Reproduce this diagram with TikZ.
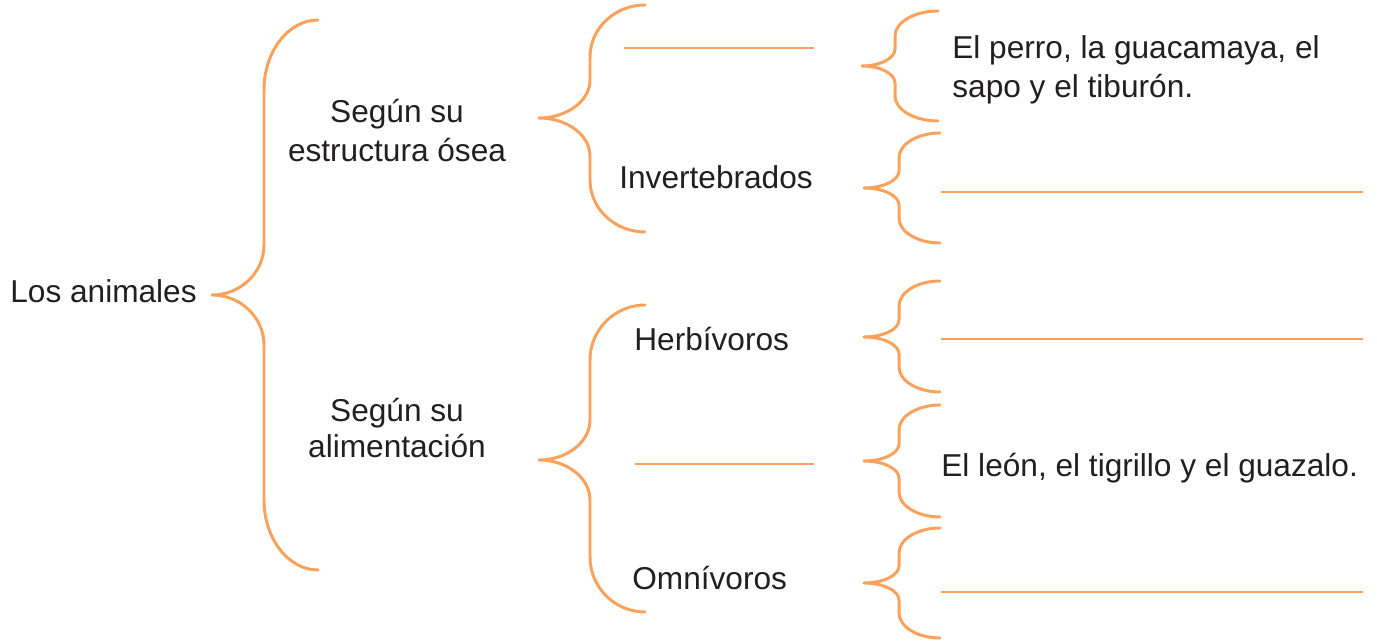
\documentclass[tikz,border=0pt]{standalone}
\usepackage{fontspec}
\setmainfont{Liberation Sans}
\definecolor{brc}{RGB}{250,162,92}
\definecolor{txc}{RGB}{35,31,32}
\tikzset{
  bracestyle/.style={draw=brc, line width=1.7pt, line cap=round, line join=round},
  blank/.style={draw=brc, line width=1.5pt},
  lbl/.style={inner sep=0pt, text=txc, font=\fontsize{18}{22.7}\selectfont, align=center, anchor=base},
  lblw/.style={lbl, anchor=base west, align=left},
}
% #1 name, #2 tip x, #3 tip y, #4 spine x, #5 end x, #6 top y, #7 bottom y, #8 end radius, #9 tip radius
\newcommand\mybrace[9]{%
  \coordinate (#1-tip) at (#2,#3);
  \coordinate (#1-top) at (#5,#6);
  \coordinate (#1-bot) at (#5,#7);
  \draw[bracestyle] (#1-top)
    .. controls ({#4+0.45*(#5-#4)},#6) and (#4,{#6+0.45*#8}) .. (#4,{#6+#8})
    -- (#4,{#3-#9})
    .. controls (#4,{#3-0.45*#9}) and ({#4-0.45*(#4-#2)},#3) .. (#1-tip)
    .. controls ({#4-0.45*(#4-#2)},#3) and (#4,{#3+0.45*#9}) .. (#4,{#3+#9})
    -- (#4,{#7-#8})
    .. controls (#4,{#7-0.45*#8}) and ({#4+0.45*(#5-#4)},#7) .. (#1-bot);
}
\begin{document}
\begin{tikzpicture}[x=0.02cm,y=-0.02cm]
\useasboundingbox (0,0) rectangle (1377,641);
% braces
\mybrace{b1}{212}{295}{264}{318}{20}{570}{70}{50}
\mybrace{b2}{539}{118}{590}{645}{5}{232}{52}{38}
\mybrace{b3}{539}{460}{590}{645}{305}{612}{55}{40}
\mybrace{b4}{862}{66}{895}{938}{11}{121}{25}{17}
\mybrace{b5}{864}{188}{899}{940}{133}{243}{25}{17}
\mybrace{b6}{864}{337}{899}{940}{281}{392}{25}{17}
\mybrace{b7}{864}{461}{899}{940}{405}{517}{25}{17}
\mybrace{b8}{864}{583}{899}{940}{528}{638}{25}{17}
% texts
\node[lblw] (animales) at (10,303) {Los animales};
\node[lbl, font=\fontsize{18}{22.7}\selectfont] (osea) at (397,162) {Según su\\estructura ósea};
\node[lbl, font=\fontsize{18}{21}\selectfont] (alim) at (397,458) {Según su\\alimentación};
\node[lblw] (inv) at (619,189) {Invertebrados};
\node[lblw] (herb) at (634,351) {Herbívoros};
\node[lblw] (omni) at (632,590) {Omnívoros};
\node[lblw, font=\fontsize{18}{22.7}\selectfont] (perro) at (952,98) {El perro, la guacamaya, el\\sapo y el tiburón.};
\node[lblw] (leon) at (941,477) {El león, el tigrillo y el guazalo.};
% blanks
\coordinate (l1a) at (624,48);  \coordinate (l1b) at (814,48);
\coordinate (l2a) at (941,192); \coordinate (l2b) at (1363,192);
\coordinate (l3a) at (941,339); \coordinate (l3b) at (1363,339);
\coordinate (l4a) at (635,464); \coordinate (l4b) at (814,464);
\coordinate (l5a) at (941,592); \coordinate (l5b) at (1363,592);
\draw[blank] (l1a) -- (l1b);
\draw[blank] (l2a) -- (l2b);
\draw[blank] (l3a) -- (l3b);
\draw[blank] (l4a) -- (l4b);
\draw[blank] (l5a) -- (l5b);
\end{tikzpicture}
\end{document}
